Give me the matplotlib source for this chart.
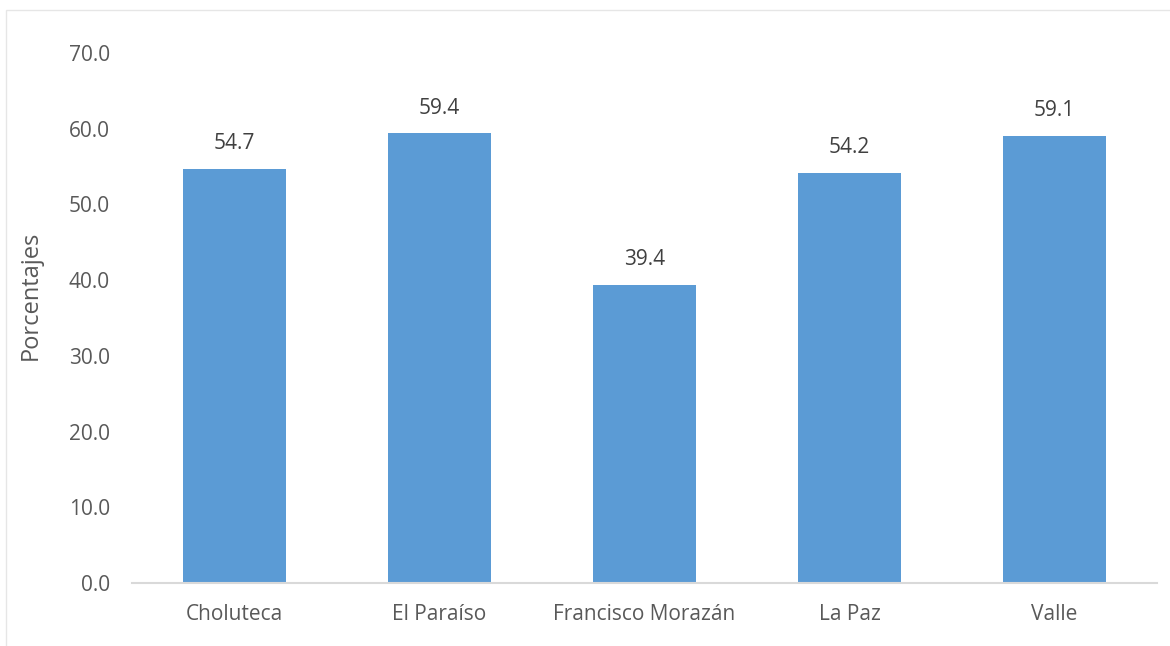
import matplotlib.pyplot as plt
from matplotlib.patches import Rectangle

departamentos = ["Choluteca", "El Paraíso", "Francisco Morazán", "La Paz", "Valle"]
porcentajes = [54.7, 59.4, 39.4, 54.2, 59.1]
yticks = [0, 10, 20, 30, 40, 50, 60, 70]

plt.rcParams["font.family"] = ["Open Sans", "DejaVu Sans"]

fig = plt.figure(figsize=(11.7, 6.46), dpi=100)
ax = fig.add_axes([0.1128, 0.0975, 0.8762, 0.8205])

x = range(len(departamentos))
bars = ax.bar(x, porcentajes, width=0.5, color="#5B9BD5", zorder=2)
for b, v in zip(bars, porcentajes):
    ax.text(b.get_x() + b.get_width() / 2, v + 1.9, f"{v:.1f}",
            ha="center", va="bottom", fontsize=15, color="#404040")

ax.set_xlim(-0.5, len(departamentos) - 0.5)
ax.set_ylim(0, 70)
ax.set_yticks(yticks)
ax.set_yticklabels([f"{t:.1f}" for t in yticks])
ax.set_xticks(list(x))
ax.set_xticklabels(departamentos)
ax.tick_params(axis="both", length=0, labelsize=15, labelcolor="#595959")
ax.tick_params(axis="y", pad=16)
ax.tick_params(axis="x", pad=15)
ax.set_ylabel("Porcentajes", fontsize=17, color="#595959")
ax.yaxis.set_label_coords(-0.087, 0.543)

for side in ("top", "right", "left"):
    ax.spines[side].set_visible(False)
ax.spines["bottom"].set_color("#D9D9D9")
ax.spines["bottom"].set_linewidth(1.5)

# light frame around the chart area
fig.patches.append(Rectangle((6 / 1170, -0.01), 1.02, 1 - 10 / 646 + 0.01,
                             transform=fig.transFigure, fill=False,
                             edgecolor="#E6E6E6", linewidth=1))

fig.savefig("out.png", dpi=100)
